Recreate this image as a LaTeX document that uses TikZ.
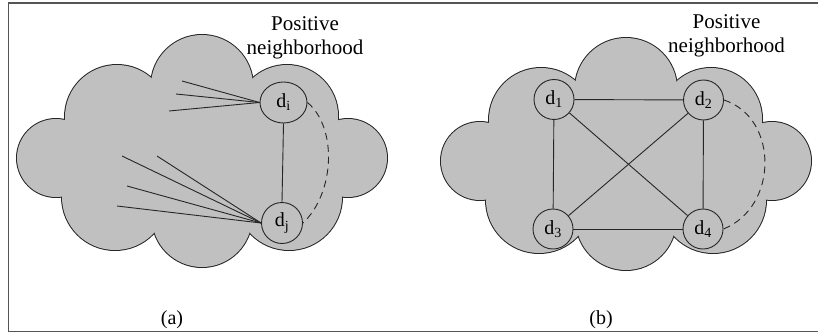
\documentclass[tikz,border=0pt]{standalone}
\usepackage{fontspec}
\setmainfont{Liberation Serif}
\newfontfamily\serifx{Liberation Serif}
\usetikzlibrary{shapes.geometric}
\definecolor{cloudgray}{HTML}{C0C0C0}
\definecolor{inkc}{HTML}{262626}
\definecolor{framec}{HTML}{555555}
\newcommand\mycloudbody{%
  \foreach \cx/\cy/\r in {56/158/39,117/117/52,202/86/51,287/116/51,348/158/39,289/197/53,202/217/50,115/197/53}
    {\draw[inkc, line width=2pt] (\cx,\cy) circle[radius=\r pt];}
  \foreach \cx/\cy/\r in {56/158/39,117/117/52,202/86/51,287/116/51,348/158/39,289/197/53,202/217/50,115/197/53}
    {\fill[cloudgray] (\cx,\cy) circle[radius=\r pt];}
  \fill[cloudgray] (56,158) -- (117,117) -- (202,86) -- (287,116) -- (348,158) -- (289,197) -- (202,217) -- (115,197) -- cycle;
}
\tikzset{
  lbl/.style={font=\serifx\fontsize{21}{24}\selectfont, inner sep=0},
  dnode/.style={circle, draw=inkc, line width=0.9pt, fill=cloudgray, minimum size=40pt, inner sep=0, font=\serifx\fontsize{20}{22}\selectfont},
  edge/.style={draw=inkc, line width=0.9pt},
  dashedge/.style={draw=inkc, line width=0.9pt, dash pattern=on 7pt off 5pt},
  framestyle/.style={draw=framec, line width=1.3pt}
}
\begin{document}
\begin{tikzpicture}[x=1pt, y=-1pt]
\useasboundingbox (0,0) rectangle (818,334);
\draw[framestyle] (8.5,3) rectangle (822,331.5);

% ---- cloud (a)
\begin{scope}
\mycloudbody
\end{scope}
% ---- cloud (b)
\begin{scope}[shift={(424,3)}]
\mycloudbody
\end{scope}

% ---- labels
\node[lbl, anchor=base] (pa1) at (305,31) {Positive};
\node[lbl, anchor=base] (pa2) at (305,55) {neighborhood};
\node[lbl, anchor=base] (pb1) at (726.5,29) {Positive};
\node[lbl, anchor=base] (pb2) at (726.5,53) {neighborhood};
\node[lbl, anchor=base, font=\serifx\fontsize{20}{22}\selectfont] (capa) at (172,324) {(a)};
\node[lbl, anchor=base, font=\serifx\fontsize{20}{22}\selectfont] (capb) at (601,324) {(b)};

% ---- graph (a)
\node[dnode, ellipse, minimum width=47pt, minimum height=41pt] (di) at (283.5,102.5) {d\textsubscript{i}};
\node[dnode, minimum size=41pt] (dj) at (282,223) {d\textsubscript{j}};
\coordinate (a1) at (182,81);
\coordinate (a2) at (176,94);
\coordinate (a3) at (169,111);
\coordinate (b1) at (122,156);
\coordinate (b2) at (157,156);
\coordinate (b3) at (127,186);
\coordinate (b4) at (117,206);
\foreach \p in {a1,a2,a3} {\draw[edge] (\p) -- (di.west);}
\foreach \p in {b1,b2,b3,b4} {\draw[edge] (\p) -- (dj.west);}
\draw[edge] (di.south) -- (dj.north);
\draw[dashedge] (di.east) .. controls +(30,25) and +(32,-30) .. (dj.east);

% ---- graph (b)
\node[dnode] (d1) at (554,99.5) {d\textsubscript{1}};
\node[dnode] (d2) at (703.5,100) {d\textsubscript{2}};
\node[dnode] (d3) at (553,229) {d\textsubscript{3}};
\node[dnode] (d4) at (703,229) {d\textsubscript{4}};
\draw[edge] (d1) -- (d2);
\draw[edge] (d3) -- (d4);
\draw[edge] (d1) -- (d3);
\draw[edge] (d2) -- (d4);
\draw[edge] (d1) -- (d4);
\draw[edge] (d2) -- (d3);
\draw[dashedge] (d2.east) .. controls +(55,18) and +(55,-22) .. (d4.east);
\end{tikzpicture}
\end{document}
